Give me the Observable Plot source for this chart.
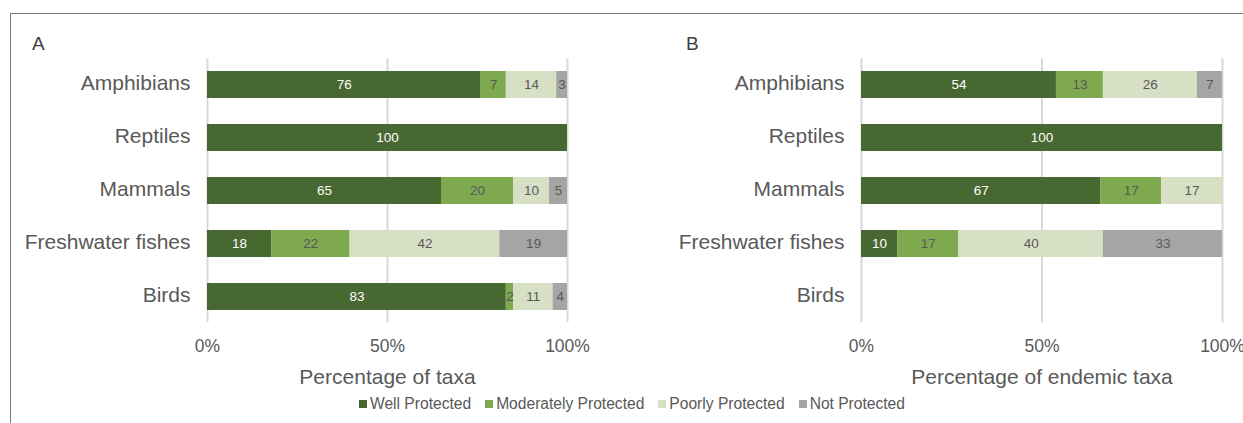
<!DOCTYPE html>
<html>
<head>
<meta charset="utf-8">
<script src="https://cdn.jsdelivr.net/npm/d3@7"></script>
<script src="https://cdn.jsdelivr.net/npm/@observablehq/plot@0.6"></script>
<style>
  body { margin: 0; background: #ffffff; font-family: "Liberation Sans", Arial, sans-serif; }
  #frame { position: absolute; left: 10px; top: 13px; width: 1400px; height: 600px; border-top: 1px solid #7a7a7a; border-left: 1px solid #7a7a7a; }
  .panel { position: absolute; top: 0; }
  .panel svg { overflow: visible; }
  .tag { position: absolute; top: 33px; font-size: 19px; color: #404040; }
  #legend { position: absolute; top: 395px; left: 0; width: 1264px; display: flex; justify-content: center; gap: 14px; font-size: 15.6px; color: #595959; }
  #legend .item { display: flex; align-items: center; gap: 3px; }
  #legend .sw { width: 8px; height: 8px; display: inline-block; }
</style>
</head>
<body>
<div id="frame"></div>
<div class="tag" style="left:32px">A</div>
<div class="tag" style="left:686px">B</div>
<div id="A" class="panel" style="left:0px"></div>
<div id="B" class="panel" style="left:620px"></div>
<div id="legend"></div>
<script>
const taxa = ["Amphibians", "Reptiles", "Mammals", "Freshwater fishes", "Birds"];
const levels = ["Well Protected", "Moderately Protected", "Poorly Protected", "Not Protected"];
const levelColors = ["#476831", "#7ea94f", "#d7dfc5", "#a5a5a5"];

// Panel A: percentage of taxa
const wellA = [76, 100, 65, 18, 83];
const moderateA = [7, 0, 20, 22, 2];
const poorlyA = [14, 0, 10, 42, 11];
const notA = [3, 0, 5, 19, 4];

// Panel B: percentage of endemic taxa (no endemic birds)
const wellB = [54, 100, 67, 10, 0];
const moderateB = [13, 0, 17, 17, 0];
const poorlyB = [26, 0, 17, 40, 0];
const notB = [7, 0, 0, 33, 0];

const xTicks = [0, 0.5, 1];

function rows(series) {
  const out = [];
  taxa.forEach((t, i) => series.forEach((s, j) => {
    if (s[i] > 0) out.push({taxon: t, level: levels[j], value: s[i]});
  }));
  return out;
}

function panel(data, opts) {
  const stackOpts = {x: "value", y: "taxon", z: "level", order: levels, offset: "normalize"};
  const labelFont = "'Liberation Sans Narrow', 'Arial Narrow', 'Liberation Sans', sans-serif";
  return Plot.plot({
    width: opts.width,
    height: 400,
    marginLeft: opts.marginLeft,
    marginRight: opts.marginRight,
    marginTop: 58,
    marginBottom: 78,
    style: {fontFamily: "'Liberation Sans', Arial, sans-serif", background: "transparent", overflow: "visible"},
    x: {domain: [0, 1]},
    y: {domain: taxa, paddingInner: 0.5, paddingOuter: 0.24},
    color: {domain: levels, range: levelColors},
    marks: [
      Plot.gridX(xTicks, {stroke: "#d9d9d9", strokeOpacity: 1, strokeWidth: 2}),
      Plot.barX(data, Plot.stackX({...stackOpts, fill: "level"})),
      Plot.text(data, Plot.filter(d => d.level === levels[0], Plot.stackX({...stackOpts, text: d => String(d.value), fill: "white", fontSize: 13.5, fontFamily: labelFont}))),
      Plot.text(data, Plot.filter(d => d.level !== levels[0], Plot.stackX({...stackOpts, text: d => String(d.value), fill: "#595959", fontSize: 13.5, fontFamily: labelFont}))),
      Plot.axisX({ticks: xTicks, tickFormat: d3.format(".0%"), tickSize: 0, tickPadding: 17, fontSize: 17.5, color: "#595959", label: null}),
      Plot.axisX({ticks: [], fontSize: 21, color: "#595959",
        label: opts.label, labelAnchor: "center", labelOffset: 61, labelArrow: "none"}),
      Plot.axisY({tickSize: 0, tickPadding: 17, fontSize: 21, color: "#595959", label: null, dy: -2})
    ]
  });
}

document.getElementById("A").append(panel(rows([wellA, moderateA, poorlyA, notA]), {width: 620, marginLeft: 207, marginRight: 53, label: "Percentage of taxa"}));
document.getElementById("B").append(panel(rows([wellB, moderateB, poorlyB, notB]), {width: 623, marginLeft: 241, marginRight: 21, label: "Percentage of endemic taxa"}));

const legend = document.getElementById("legend");
levels.forEach((l, i) => {
  const item = document.createElement("span");
  item.className = "item";
  const sw = document.createElement("span");
  sw.className = "sw";
  sw.style.background = levelColors[i];
  item.append(sw, document.createTextNode(l));
  legend.append(item);
});
</script>
</body>
</html>
